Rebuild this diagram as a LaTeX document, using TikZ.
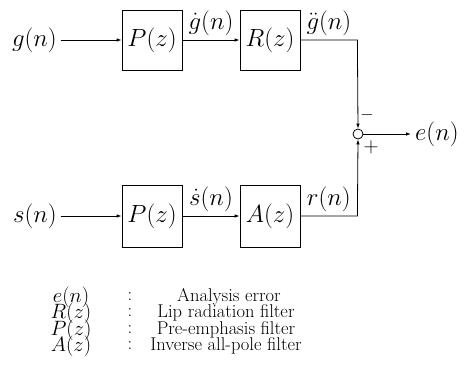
\documentclass[tikz,border=0pt]{standalone}
\usetikzlibrary{arrows.meta}
\begin{document}
\begin{tikzpicture}[x=1pt,y=-1pt,
  lbl/.style={font=\fontsize{23.5}{28}\selectfont, inner sep=0pt},
  leg/.style={font=\fontsize{18.5}{21}\selectfont, inner sep=0pt},
  legm/.style={font=\fontsize{21}{22}\selectfont, inner sep=0pt},
  blk/.style={draw, line width=0.8pt, minimum width=60pt, minimum height=60pt, inner sep=0pt, font=\fontsize{24}{28}\selectfont},
  sig/.style={line width=0.8pt, -{Latex[length=5pt,width=3.5pt]}},
  wire/.style={line width=0.8pt}]
\useasboundingbox (0,0) rectangle (467,378);
% top branch
\node[lbl, anchor=east, inner xsep=3.5pt] (g) at (60.5,40) {$g(n)$};
\node[blk] (P1) at (152,40) {$P(z)$};
\node[blk] (R) at (270,40) {$R(z)$};
% bottom branch
\node[lbl, anchor=east, inner xsep=3.5pt] (s) at (60.5,216) {$s(n)$};
\node[blk, minimum height=62pt] (P2) at (152,216) {$P(z)$};
\node[blk, minimum height=62pt] (A) at (270,216) {$A(z)$};
% summing junction
\node[circle, draw, line width=0.8pt, minimum size=10pt, inner sep=0pt] (S) at (358,134) {};
\node[lbl, anchor=west, inner xsep=4pt] (e) at (411,134) {$e(n)$};
\node[font=\fontsize{18}{20}\selectfont, inner sep=0pt] (minus) at (367,115) {$-$};
\node[font=\fontsize{20}{22}\selectfont, inner sep=0pt] (plus) at (371,147) {$+$};
% connectors
\draw[sig] (g.east) -- (P1.west);
\draw[sig] (P1.east) -- node[lbl, above=4pt] (gd) {$\dot g(n)$} (R.west);
\draw[sig] (R.east) -- node[lbl, above=4pt] (gdd) {$\ddot g(n)$} ++(57,0) -- (S.north);
\draw[sig] (s.east) -- (P2.west);
\draw[sig] (P2.east) -- node[lbl, above=4pt] (sd) {$\dot s(n)$} (A.west);
\draw[sig] (A.east) -- node[lbl, above=4pt] (r) {$r(n)$} ++(57,0) -- (S.south);
\draw[sig] (S.east) -- (e.west);
% legend
\node[legm] (l1) at (71,297) {$e(n)$};
\node[legm] (l2) at (71,313) {$R(z)$};
\node[legm] (l3) at (71,330) {$P(z)$};
\node[legm] (l4) at (71,346) {$A(z)$};
\foreach \yy/\nm in {297/c1,313/c2,330/c3,346/c4} \node[leg] (\nm) at (130,\yy) {:};
\node[leg] (d1) at (229,297) {Analysis error};
\node[leg] (d2) at (226,313) {Lip radiation filter};
\node[leg] (d3) at (226,330) {Pre-emphasis filter};
\node[leg] (d4) at (226,346) {Inverse all-pole filter};
\end{tikzpicture}
\end{document}
